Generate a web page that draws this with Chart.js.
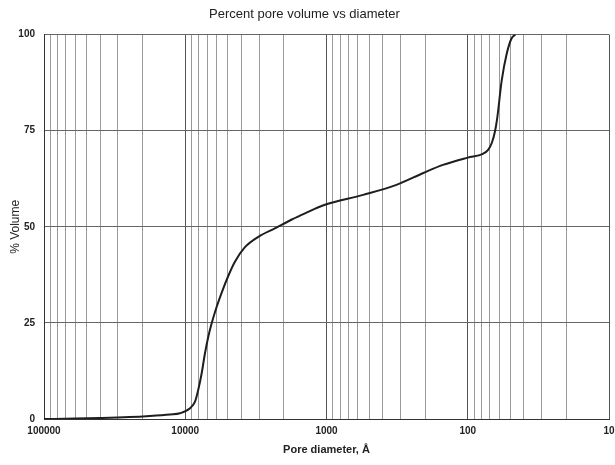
<!DOCTYPE html>
<html>
<head>
<meta charset="utf-8">
<script src="https://cdn.jsdelivr.net/npm/chart.js@4.4.1/dist/chart.umd.min.js"></script>
<style>
  html, body { margin: 0; padding: 0; background: #fff; }
  #wrap { width: 615px; height: 465px; position: relative; }
</style>
</head>
<body>
<div id="wrap"><canvas id="poreChart"></canvas></div>
<script>
// pore diameter (Å) and cumulative % pore volume
const poreDiameter = [100000, 60000, 40000, 25000, 17800, 12800, 10900, 9250, 8530, 8090, 7650, 7250, 6870, 6500, 5990, 5520, 4960, 4450, 3780, 3040, 2320, 1760, 1420, 1050, 550, 320, 206, 150, 100, 78, 71.5, 67.6, 64, 62, 57.5, 53, 49, 46];
const poreVolume = [0, 0.1, 0.25, 0.5, 0.8, 1.2, 1.5, 2.8, 4.5, 7.6, 11.9, 17.1, 21.4, 24.9, 29.2, 32.9, 37.2, 40.9, 44.7, 47.4, 49.6, 51.9, 53.5, 55.6, 58.3, 60.9, 64, 66.1, 68, 69, 70.1, 71.8, 75, 78, 88, 95, 99, 100];

const decadeLabels = ['100000', '10000', '1000', '100', '10'];
const gridMultipliers = [1, 2, 3, 4, 5, 6, 7, 8, 9];
const volumeTicks = [0, 25, 50, 75, 100];

function buildDiameterTicks() {
  const ticks = [];
  for (let p = 10; p < 100000; p *= 10) {
    gridMultipliers.forEach((m) => ticks.push({ value: m * p }));
  }
  ticks.push({ value: 100000 });
  return ticks;
}

const ctx = document.getElementById('poreChart');
new Chart(ctx, {
  type: 'line',
  data: {
    datasets: [{
      data: poreDiameter.map((d, i) => ({ x: d, y: poreVolume[i] })),
      borderColor: '#1e1e1e',
      borderWidth: 2,
      pointRadius: 0,
      cubicInterpolationMode: 'monotone',
      fill: false,
    }],
  },
  options: {
    responsive: true,
    maintainAspectRatio: false,
    animation: false,
    layout: { padding: { left: 0, right: 6, top: 0, bottom: 0 } },
    plugins: {
      legend: { display: false },
      tooltip: { enabled: false },
      title: {
        display: true,
        text: 'Percent pore volume vs diameter',
        color: '#222',
        font: { family: 'Liberation Sans, Arial, sans-serif', size: 13, weight: 'normal' },
        padding: { top: 7, bottom: 12 },
      },
    },
    scales: {
      x: {
        type: 'logarithmic',
        reverse: true,
        min: 10,
        max: 100000,
        afterBuildTicks: (scale) => { scale.ticks = buildDiameterTicks(); },
        afterFit: (scale) => { scale.height = 46; },
        ticks: {
          autoSkip: false,
          maxRotation: 0,
          padding: 6,
          color: '#222',
          font: { family: 'Liberation Sans, Arial, sans-serif', size: 10, weight: 'bold' },
          callback: (value) => (decadeLabels.includes(String(value)) ? String(value) : ''),
        },
        grid: {
          drawTicks: false,
          lineWidth: 1,
          color: (c) => (decadeLabels.includes(String(c.tick && c.tick.value)) ? '#555' : '#9a9a9a'),
        },
        border: { color: '#333', width: 1 },
        title: {
          display: true,
          text: 'Pore diameter, Å',
          color: '#222',
          font: { family: 'Liberation Sans, Arial, sans-serif', size: 11, weight: 'bold' },
          padding: { top: 8, bottom: 8 },
        },
      },
      y: {
        min: 0,
        max: 100,
        afterBuildTicks: (scale) => { scale.ticks = volumeTicks.map((v) => ({ value: v })); },
        afterFit: (scale) => { scale.width = 44; },
        ticks: {
          padding: 9,
          color: '#222',
          font: { family: 'Liberation Sans, Arial, sans-serif', size: 10, weight: 'bold' },
        },
        grid: { drawTicks: false, color: '#666', lineWidth: 1 },
        border: { color: '#333', width: 1 },
        title: {
          display: true,
          text: '% Volume',
          color: '#222',
          font: { family: 'Liberation Sans, Arial, sans-serif', size: 12, weight: 'normal' },
          padding: { top: 8, bottom: 7 },
        },
      },
    },
  },
});
</script>
</body>
</html>
